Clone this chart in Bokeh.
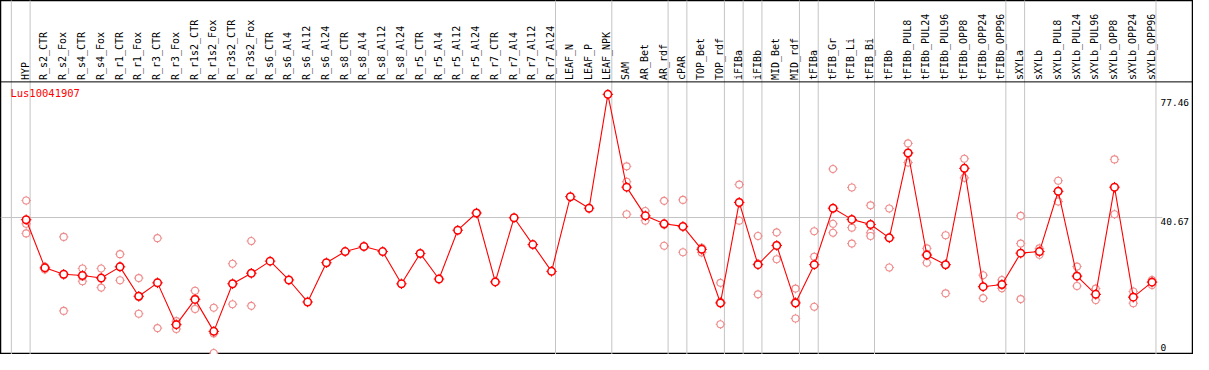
import numpy as np
from bokeh.plotting import figure
from bokeh.models import Range1d, ColumnDataSource
from bokeh.core.properties import value
from bokeh.embed import file_html
from bokeh.resources import INLINE

gene = "Lus10041907"

samples = [
    "HYP", "R_s2_CTR", "R_s2_Fox", "R_s4_CTR", "R_s4_Fox", "R_r1_CTR", "R_r1_Fox",
    "R_r3_CTR", "R_r3_Fox", "R_r1s2_CTR", "R_r1s2_Fox", "R_r3s2_CTR", "R_r3s2_Fox",
    "R_s6_CTR", "R_s6_Al4", "R_s6_Al12", "R_s6_Al24", "R_s8_CTR", "R_s8_Al4",
    "R_s8_Al12", "R_s8_Al24", "R_r5_CTR", "R_r5_Al4", "R_r5_Al12", "R_r5_Al24",
    "R_r7_CTR", "R_r7_Al4", "R_r7_Al12", "R_r7_Al24", "LEAF_N", "LEAF_P", "LEAF_NPK",
    "SAM", "AR_Bet", "AR_rdf", "cPAR", "TOP_Bet", "TOP_rdf", "iFIBa", "iFIBb",
    "MID_Bet", "MID_rdf", "tFIBa", "tFIB_Gr", "tFIB_Li", "tFIB_Bi", "tFIBb",
    "tFIBb_PUL8", "tFIBb_PUL24", "tFIBb_PUL96", "tFIBb_OPP8", "tFIBb_OPP24",
    "tFIBb_OPP96", "sXYLa", "sXYLb", "sXYLb_PUL8", "sXYLb_PUL24", "sXYLb_PUL96",
    "sXYLb_OPP8", "sXYLb_OPP24", "sXYLb_OPP96",
]

means = [40.02, 25.64, 23.73, 23.36, 22.58, 25.93, 17.15, 21.15, 8.66, 16.21,
         6.66, 20.87, 24.01, 27.64, 22.01, 15.44, 27.16, 30.50, 32.02, 30.50,
         20.87, 29.93, 22.30, 36.88, 42.02, 21.44, 40.59, 32.59, 24.59, 46.88,
         43.45, 77.46, 49.74, 41.17, 38.79, 38.02, 31.16, 15.15, 45.17, 26.59,
         32.30, 15.15, 26.59, 43.45, 40.11, 38.59, 34.59, 59.95, 29.45, 26.59,
         55.37, 20.01, 20.67, 30.02, 30.50, 48.51, 23.16, 17.72, 49.74, 16.87, 21.36]

NA = float("nan")
rep1 = [45.74, 26.00, 34.88, 25.44, 25.44, 29.73, 22.58, 34.51, 9.72, 18.78,
        13.72, 26.87, 33.65] + [NA] * 19 + [
        55.95, 42.60, 45.65, 45.94, 31.65, 21.15, 50.51, 35.16, 36.22, 19.44,
        36.59, 55.17, 49.66, 44.31, 43.37, 62.81, 31.45, 35.36, 58.23, 23.44,
        22.01, 41.17, 31.45, 51.66, 26.01, 19.44, 58.03, 18.58, 22.01]
rep2 = [38.79, 25.44, 12.78, 21.64, 19.73, 21.93, 11.92, 7.63, 7.35, 13.35,
        0.20, 14.78, 14.29] + [NA] * 19 + [
        51.37, 39.74, 32.22, 30.30, 30.22, 8.78, 39.74, 17.72, 28.22, 10.49,
        28.96, 38.79, 37.65, 36.11, 25.73, 57.09, 27.16, 18.01, 52.52, 16.58,
        19.53, 32.88, 29.53, 45.45, 20.21, 16.01, 41.65, 15.07, 20.50]
rep3 = [35.93, 25.16, 23.53, 23.00, 22.57, 26.13, 16.95, 21.31, 8.91, 16.50,
        6.06, 20.96, 24.09] + [NA] * 19 + [
        41.65, 41.17, 38.50, 37.82, 31.61, 15.52, 45.26, 26.89, 32.46, 15.52,
        14.01, 36.11, 32.88, 35.16, 34.67, 59.95, 29.74, 26.40, 55.36, 20.01,
        20.47, 16.30, 30.52, 48.42, 23.26, 17.71, 49.54, 16.96, 21.57]

group_sizes = [1, 28, 3, 3, 1, 2, 1, 1, 2, 1, 3, 7, 1, 7]

y_ticks = [77.46, 40.67, 0]
y_tick_labels = ["77.46", "40.67", "0"]

# ---------------------------------------------------------------
n = len(samples)
idx = np.arange(n, dtype=float)

RED = "#ff0000"
PINK = "#ee8c8c"
GRID = "#c4c4c4"
FONT = value("DejaVu Sans Mono")

X0, X1 = -1.368, 62.21
Y0, Y1 = -0.25, 105.5
HEADER_Y = 81.19

p = figure(width=1193, height=354, output_backend="svg", toolbar_location=None,
           x_range=Range1d(X0, X1), y_range=Range1d(Y0, Y1),
           x_axis_location=None, y_axis_location=None, min_border=0)
p.grid.visible = False
p.outline_line_color = "black"
p.outline_line_width = 1.5
p.background_fill_color = "white"
p.border_fill_color = "white"

# group separators
ends = np.concatenate([[-1], np.cumsum(group_sizes) - 1]).astype(float)
sep_x = ends + 0.21
p.segment(x0=sep_x, x1=sep_x, y0=Y0 - 5, y1=Y1 + 5, line_color=GRID, line_width=1)

# reference horizontal line
p.segment(x0=[X0], x1=[n - 0.45], y0=[y_ticks[1]], y1=[y_ticks[1]],
          line_color=GRID, line_width=1)

# header separator
p.segment(x0=[X0], x1=[X1], y0=[HEADER_Y], y1=[HEADER_Y], line_color="black", line_width=1)

# replicates
rx = np.concatenate([idx, idx, idx])
ry = np.array(rep1 + rep2 + rep3, dtype=float)
rsrc = ColumnDataSource(dict(x=rx, y=ry))
p.scatter("x", "y", source=rsrc, marker="cross", size=9.5, line_color=PINK, line_width=1)
p.scatter("x", "y", source=rsrc, marker="circle", size=7, line_color=PINK,
          line_width=1.1, fill_color="white")

# mean profile
msrc = ColumnDataSource(dict(x=idx, y=np.array(means, dtype=float)))
p.line("x", "y", source=msrc, line_color=RED, line_width=1.1)
p.scatter("x", "y", source=msrc, marker="cross", size=10.5, line_color=RED, line_width=1)
p.scatter("x", "y", source=msrc, marker="circle", size=7.5, line_color=RED,
          line_width=1.5, fill_color="white")

# header labels
p.text(x=idx - 0.05, y=HEADER_Y + 0.55, text=samples, angle=np.pi / 2,
       text_align="left", text_baseline="middle", text_font=FONT,
       text_font_size="10px", text_color="black")

# gene name
p.text(x=[-0.84], y=[79.6], text=[gene], text_align="left", text_baseline="top",
       text_font=FONT, text_font_size="10.5px", text_color=RED)

# tick labels on the right
p.text(x=[n - 0.55] * 3, y=y_ticks, text=y_tick_labels, y_offset=[8, 4, -6],
       text_align="left", text_baseline="middle", text_font=FONT,
       text_font_size="9.5px", text_color="black")

open("out.html", "w").write(file_html(p, INLINE))
